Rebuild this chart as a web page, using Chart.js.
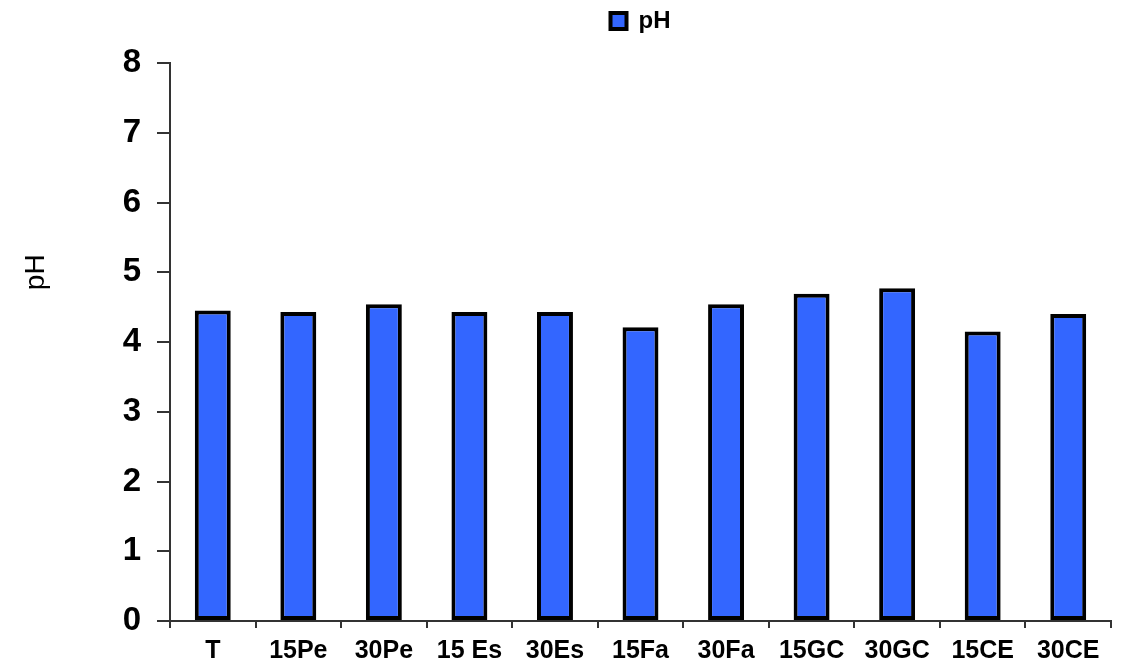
<!DOCTYPE html>
<html>
<head>
<meta charset="utf-8">
<script src="https://cdn.jsdelivr.net/npm/chart.js@4"></script>
<style>
  html, body { margin: 0; padding: 0; background: #fff; }
  #caja { width: 1127px; height: 665px; }
</style>
</head>
<body>
<div id="caja"><canvas id="miGrafico"></canvas></div>
<script>
// datos del grafico
let cTratam = ['T', '15Pe', '30Pe', '15 Es', '30Es', '15Fa', '30Fa', '15GC', '30GC', '15CE', '30CE'];
let nPh = [4.45, 4.43, 4.54, 4.43, 4.43, 4.21, 4.54, 4.69, 4.77, 4.15, 4.40];
let nTicks = [0, 1, 2, 3, 4, 5, 6, 7, 8];
let cTitY = 'pH';

Chart.defaults.font.family = "'Liberation Sans', Arial, sans-serif";
Chart.defaults.color = '#000';

// espacio extra bajo la leyenda
const masAlto = {
    id: 'masAlto',
    beforeInit(chart) {
        const fitOrig = chart.legend.fit;
        chart.legend.fit = function() {
            fitOrig.bind(chart.legend)();
            this.height += 20;
        };
    }
};

// titulo del eje Y (un poco por encima del centro, como el original)
const tituloY = {
    id: 'tituloY',
    afterDraw(chart) {
        const ctx = chart.ctx;
        const y = chart.scales.y.getPixelForValue(5);
        ctx.save();
        ctx.translate(36, y);
        ctx.rotate(-Math.PI / 2);
        ctx.font = "28px 'Liberation Sans', Arial, sans-serif";
        ctx.fillStyle = '#000';
        ctx.textAlign = 'center';
        ctx.textBaseline = 'middle';
        ctx.fillText(cTitY, 0, 0);
        ctx.restore();
    }
};

let chartData = {
    labels: cTratam,
    datasets: [{
        label: 'pH',
        data: nPh,
        backgroundColor: '#3366FF',
        borderColor: '#000',
        borderWidth: 4,
        borderSkipped: false,
        barPercentage: 0.42,
        categoryPercentage: 1.0
    }]
};

var grafico = new Chart(document.getElementById('miGrafico'), {
    type: 'bar',
    data: chartData,
    plugins: [masAlto, tituloY],
    options: {
        responsive: true,
        maintainAspectRatio: false,
        animation: false,
        layout: { padding: { left: 10, right: 16, top: 4, bottom: 4 } },
        plugins: {
            tooltip: { enabled: false },
            legend: {
                display: true,
                position: 'top',
                fullSize: false,
                labels: {
                    boxWidth: 16,
                    boxHeight: 16,
                    padding: 5,
                    font: { size: 24, weight: 'bold' },
                    color: '#000'
                }
            }
        },
        scales: {
            x: {
                offset: true,
                afterFit: function(scale) { scale.height = 40; },
                grid: { display: true, drawOnChartArea: false, drawTicks: true, tickLength: 7, offset: true, color: '#333', lineWidth: 2 },
                border: { display: true, color: '#333', width: 2 },
                ticks: { font: { size: 25, weight: 'bold' }, padding: 8, maxRotation: 0, autoSkip: false }
            },
            y: {
                min: 0,
                max: 8,
                afterBuildTicks: function(scale) {
                    scale.ticks = nTicks.map(function(v) { return { value: v }; });
                },
                afterFit: function(scale) { scale.width = 160; },
                grid: { display: true, drawOnChartArea: false, drawTicks: true, tickLength: 13, color: '#333', lineWidth: 2 },
                border: { display: true, color: '#333', width: 2 },
                ticks: { font: { size: 33, weight: 'bold' }, padding: 16 }
            }
        }
    }
});
</script>
</body>
</html>
